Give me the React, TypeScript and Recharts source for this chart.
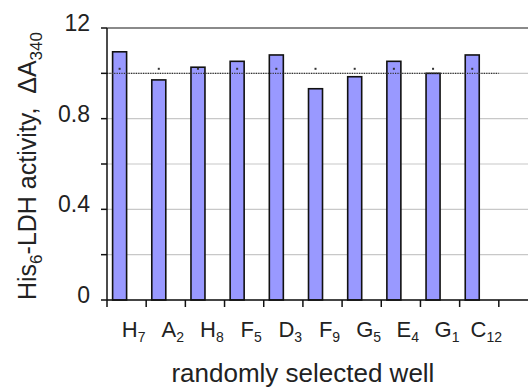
import { ComposedChart, Bar, XAxis, YAxis, CartesianGrid, ReferenceLine, Label } from 'recharts';

// well letters + subscripts, last slot is an empty category (Excel left room on the right)
const wellLetters = ['H', 'A', 'H', 'F', 'D', 'F', 'G', 'E', 'G', 'C', ''];
const wellSubs = ['7', '2', '8', '5', '3', '9', '5', '4', '1', '12', ''];
const activity = [1.095, 0.971, 1.027, 1.053, 1.081, 0.932, 0.985, 1.053, 1.0, 1.081, null];
const markValue = [1.02, 1.02, 1.02, 1.02, 1.02, 1.02, 1.02, 1.02, 1.02, 1.02, null];
const yTicks = [0, 0.2, 0.4, 0.6, 0.8, 1.0, 1.2];
const yLabels: Record<string, string> = { '0': '0', '0.4': '0.4', '0.8': '0.8', '1.2': '12' };
const refLevel = 1.0;

const FONT = '"Liberation Sans", Arial, Helvetica, sans-serif';

const data = wellLetters.map((w, i) => ({
  well: w ? w + wellSubs[i] : 'end',
  activity: activity[i],
  mark: markValue[i],
  blank: 0,
}));

const BarWithMark = (props: any) => {
  const { x, y, width, height, payload } = props;
  if (payload.activity == null || !height) return <g />;
  const base = y + height;
  const markY = base - (height * payload.mark) / payload.activity;
  return (
    <g>
      <rect x={x} y={y} width={width} height={height} fill="#9999ff" stroke="#111" strokeWidth={1.6} />
      <rect x={x + width / 2 - 1} y={markY - 1} width={2} height={2} fill="#333" />
    </g>
  );
};

// tick mark sits on the category boundary, label under the middle
const XTick = (props: any) => {
  const { x, y, payload } = props;
  const i = payload.index;
  const edge = Number(x) - Number(payload.offset || 0);
  return (
    <g>
      <path d={`M${edge},${y}v7`} stroke="#111" strokeWidth={1.5} fill="none" />
      <text x={x} y={y + 37} dx={7} textAnchor="middle" fontSize={22} fill="#222" stroke="none" fontFamily={FONT}>
        {wellLetters[i]}
        <tspan fontSize={14} dy={5}>{wellSubs[i]}</tspan>
      </text>
    </g>
  );
};

const YTick = (props: any) => {
  const { x, y, payload } = props;
  const label = yLabels[String(Math.round(payload.value * 10) / 10)];
  if (!label) return <g />;
  return (
    <text x={x} y={y + 3} textAnchor="end" fontSize={23} fill="#222" stroke="none" fontFamily={FONT}>
      {label}
    </text>
  );
};

const YTitle = (props: any) => {
  const { viewBox } = props;
  const cx = viewBox.x + 36;
  const cy = viewBox.y + viewBox.height / 2 + 2;
  return (
    <text x={cx} y={cy} transform={`rotate(-90, ${cx}, ${cy})`} textAnchor="middle" fontSize={25} fill="#222" fontFamily={FONT}>
      His<tspan fontSize={17} dy={6}>6</tspan>
      <tspan dy={-6}>-LDH activity,{'\u00a0\u00a0'}ΔA</tspan>
      <tspan fontSize={17} dy={6}>340</tspan>
    </text>
  );
};

const XTitle = (props: any) => {
  const { viewBox } = props;
  const n = wellLetters.length;
  const cx = viewBox.x + ((viewBox.width / n) * (n - 1)) / 2;
  return (
    <text x={cx} y={viewBox.y + viewBox.height - 8} textAnchor="middle" fontSize={26} fill="#222" fontFamily={FONT}>
      randomly selected well
    </text>
  );
};

export default function App() {
  return (
    <div style={{ position: 'absolute', left: 0, top: 0, width: 528, height: 390, overflow: 'hidden', background: '#fff' }}>
      <ComposedChart
        width={538}
        height={390}
        data={data}
        margin={{ top: 28, right: 0, bottom: 0, left: 0 }}
        barCategoryGap="14.3%"
        barGap={0}
      >
        <CartesianGrid vertical={false} stroke="#c8c8c8" strokeWidth={1.2} />
        <XAxis
          dataKey="well"
          height={90}
          stroke="#111"
          strokeWidth={1.5}
          tickLine={false}
          tickSize={0}
          tickMargin={0}
          tick={<XTick />}
          interval={0}
        >
          <Label content={<XTitle />} />
        </XAxis>
        <YAxis
          domain={[0, 1.2]}
          ticks={yTicks}
          width={107}
          tickLine={{ stroke: '#111', strokeWidth: 1.5 }}
          tickSize={6}
          tickMargin={11}
          stroke="#111"
          strokeWidth={1.5}
          tick={<YTick />}
          interval={0}
        >
          <Label content={<YTitle />} />
        </YAxis>
        <ReferenceLine y={1.2} stroke="#8a8a8a" strokeWidth={2} />
        <ReferenceLine
          segment={[{ x: 'H7', y: refLevel }, { x: 'end', y: refLevel }]}
          position="start"
          stroke="#333"
          strokeWidth={1.2}
          strokeDasharray="1.2 1.2"
        />
        <Bar dataKey="activity" shape={<BarWithMark />} isAnimationActive={false} />
        <Bar dataKey="blank" fill="transparent" isAnimationActive={false} />
      </ComposedChart>
    </div>
  );
}
